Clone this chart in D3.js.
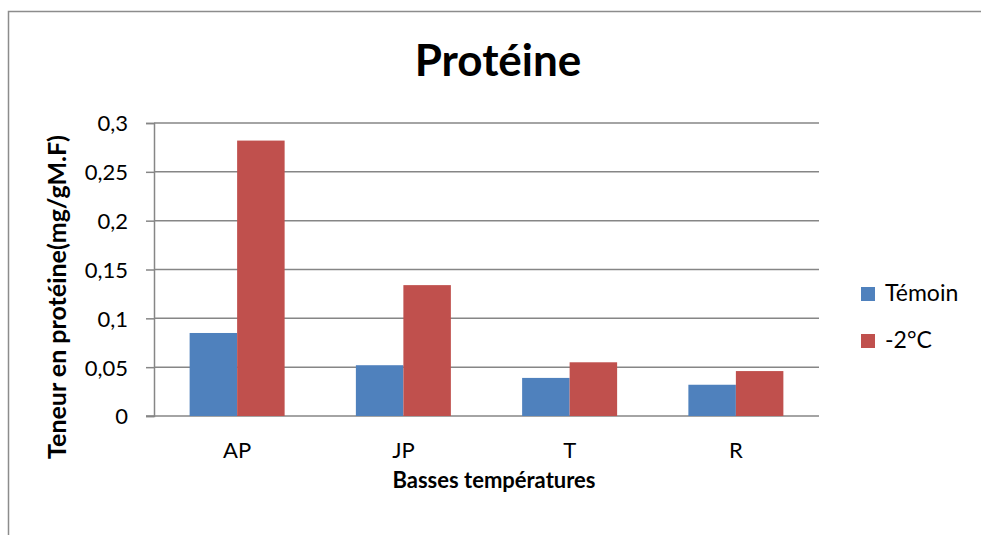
<!DOCTYPE html>
<html>
<head>
<meta charset="utf-8">
<script src="https://cdn.jsdelivr.net/npm/d3@7"></script>
<style>
  body { margin: 0; background: #fff; overflow: hidden; }
  svg { display: block; }
  svg text { font-family: Lato, "Open Sans", sans-serif; fill: #000; }
</style>
</head>
<body>
<div id="here"></div>
<script>
// data
const categories = ["AP", "JP", "T", "R"];
const seriesNames = ["Témoin", "-2°C"];
const temoin = [0.085, 0.052, 0.039, 0.032];
const moins2 = [0.282, 0.134, 0.055, 0.046];
const yTicks = [0, 0.05, 0.1, 0.15, 0.2, 0.25, 0.3];
const colors = ["#4F81BD", "#C0504D"];

const width = 981, height = 535;
const margin = { top: 123, right: 162, bottom: 119, left: 154 };

const svg = d3.select("#here")
    .append("svg")
    .attr("width", width)
    .attr("height", height);

// outer chart frame (only left and top edges are inside the picture)
svg.append("path")
    .attr("d", `M8.5,${height}V11.5H${width}`)
    .attr("fill", "none")
    .attr("stroke", "#8c8c8c")
    .attr("stroke-width", 1.5);

const xScale = d3.scaleBand()
    .domain(categories)
    .range([margin.left, width - margin.right]);

const yScale = d3.scaleLinear()
    .domain([0, 0.3])
    .range([height - margin.bottom, margin.top]);

const fmt = d => String(+d.toFixed(2)).replace(".", ",");

// left axis ticks + labels
const yAxis = svg.append("g")
    .attr("transform", `translate(${margin.left}, 0)`)
    .call(d3.axisLeft(yScale)
        .tickValues(yTicks)
        .tickFormat(fmt)
        .tickSize(8)
        .tickPadding(18));
yAxis.select(".domain").attr("stroke", "#868686").attr("stroke-width", 1.5);
yAxis.selectAll(".tick line").attr("stroke", "#868686").attr("stroke-width", 1.5);
yAxis.selectAll(".tick text").attr("font-size", 22).attr("dy", "0.36em");

// gridlines
svg.append("g")
    .selectAll("line")
    .data(yTicks.filter(d => d > 0))
    .join("line")
    .attr("x1", margin.left).attr("x2", width - margin.right)
    .attr("y1", d => yScale(d)).attr("y2", d => yScale(d))
    .attr("stroke", "#868686")
    .attr("stroke-width", 1.5);

const xAxis = svg.append("g")
    .attr("transform", `translate(0, ${height - margin.bottom})`)
    .call(d3.axisBottom(xScale).tickSize(0).tickPadding(26));
xAxis.select(".domain").attr("stroke", "#868686").attr("stroke-width", 1.5)
    .attr("d", `M${margin.left - 8},0H${width - margin.right}`);
xAxis.selectAll(".tick text").attr("font-size", 22);

// bars (Excel gap width 75%)
const groupW = xScale.bandwidth() / 1.75;
const xSub = d3.scaleBand()
    .domain(seriesNames)
    .range([0, groupW]);

const rows = categories.map((c, i) => ({ cat: c, vals: [temoin[i], moins2[i]] }));

svg.append("g")
    .selectAll("g")
    .data(rows)
    .join("g")
    .attr("transform", d => `translate(${xScale(d.cat) + (xScale.bandwidth() - groupW) / 2}, 0)`)
    .selectAll("rect")
    .data(d => d.vals.map((v, j) => ({ name: seriesNames[j], v: v, j: j })))
    .join("rect")
    .attr("x", d => xSub(d.name))
    .attr("width", xSub.bandwidth())
    .attr("y", d => yScale(d.v))
    .attr("height", d => yScale(0) - yScale(d.v))
    .attr("fill", d => colors[d.j]);

// title
svg.append("text")
    .attr("x", 498).attr("y", 76)
    .attr("text-anchor", "middle")
    .attr("font-size", 44)
    .attr("font-weight", "bold")
    .text("Protéine");

// axis titles
svg.append("text")
    .attr("x", 494).attr("y", 488)
    .attr("text-anchor", "middle")
    .attr("font-size", 22)
    .attr("font-weight", "bold")
    .text("Basses températures");

svg.append("text")
    .attr("transform", "translate(66, 297) rotate(-90)")
    .attr("text-anchor", "middle")
    .attr("font-size", 25)
    .attr("font-weight", "bold")
    .text("Teneur en protéine(mg/gM.F)");

// legend
const legend = svg.append("g")
    .selectAll("g")
    .data(seriesNames)
    .join("g")
    .attr("transform", (d, i) => `translate(861, ${287 + i * 47})`);
legend.append("rect")
    .attr("width", 14).attr("height", 14)
    .attr("fill", (d, i) => colors[i]);
legend.append("text")
    .attr("x", 24).attr("y", 14)
    .attr("font-size", 23)
    .text(d => d);
</script>
</body>
</html>
